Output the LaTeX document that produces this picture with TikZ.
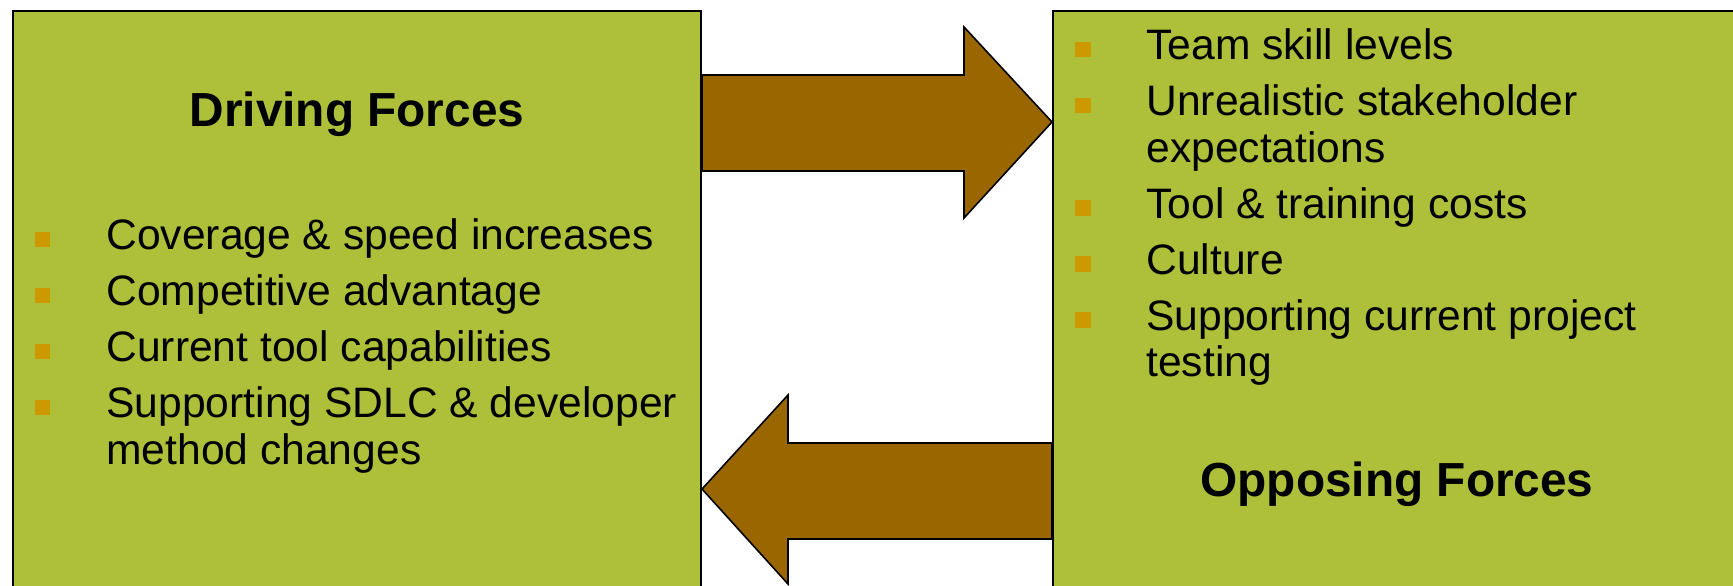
\documentclass[tikz,border=0pt]{standalone}
\usepackage{fontspec}
\setmainfont{Liberation Sans}
\definecolor{boxgreen}{RGB}{174,191,58}
\definecolor{arrowbrown}{RGB}{153,102,0}
\definecolor{bulletgold}{RGB}{204,153,0}
\newcommand\itemtext[1]{\begin{tabular}[t]{@{}l@{}}#1\end{tabular}}
\begin{document}
\begin{tikzpicture}[x=0.5pt,y=-0.5pt,
  forcebox/.style={draw=black, line width=1pt, fill=boxgreen, anchor=north west, inner sep=0pt},
  bigarrow/.style={draw=black, line width=0.8pt, fill=arrowbrown, line join=miter},
  bul/.style={fill=bulletgold, minimum size=7.6pt, inner sep=0pt},
  itm/.style={anchor=base west, inner sep=0pt, font=\fontsize{21.3}{23.4}\selectfont},
  title/.style={anchor=base, inner sep=0pt, font=\fontsize{23.9}{26}\selectfont\bfseries}]
\useasboundingbox (0,0) rectangle (1733,585);
\clip (0,0) rectangle (1733,585);
% boxes
\node[forcebox, minimum width=344pt, minimum height=300pt] (L) at (12,10) {};
\node[forcebox, minimum width=350pt, minimum height=300pt] (R) at (1052,10) {};
% arrows
\coordinate (ra0) at (L.east |- 0,75);
\coordinate (ra1) at (L.east |- 0,171);
\coordinate (rtip) at (R.west |- 0,122);
\draw[bigarrow] (ra0) -- (964,75) -- (964,27) -- (rtip) -- (964,218) -- (964,171) -- (ra1) -- cycle;
\coordinate (la0) at (R.west |- 0,443);
\coordinate (la1) at (R.west |- 0,539);
\coordinate (ltip) at (L.east |- 0,489);
\draw[bigarrow] (la0) -- (788,443) -- (788,395) -- (ltip) -- (788,584) -- (788,539) -- (la1) -- cycle;
% titles
\node[title] (Lt) at (357,126.5) {Driving Forces};
\node[title] (Rt) at (1397,496.5) {Opposing Forces};
% left items
\node[bul] (lb1) at (42.5,239.5) {};
\node[itm] (li1) at (106,249) {Coverage \& speed increases};
\node[bul] (lb2) at (42.5,295.5) {};
\node[itm] (li2) at (106,305) {Competitive advantage};
\node[bul] (lb3) at (42.5,351.5) {};
\node[itm] (li3) at (106,361.5) {Current tool capabilities};
\node[bul] (lb4) at (42.5,407.5) {};
\node[itm] (li4) at (106,417.5) {\itemtext{Supporting SDLC \& developer\\method changes}};
% right items
\node[bul] (rb1) at (1083,49.5) {};
\node[itm] (ri1) at (1146,59.5) {Team skill levels};
\node[bul] (rb2) at (1083,105.5) {};
\node[itm] (ri2) at (1146,115.5) {\itemtext{Unrealistic stakeholder\\expectations}};
\node[bul] (rb3) at (1083,208) {};
\node[itm] (ri3) at (1146,218) {Tool \& training costs};
\node[bul] (rb4) at (1083,264) {};
\node[itm] (ri4) at (1146,274) {Culture};
\node[bul] (rb5) at (1083,320) {};
\node[itm] (ri5) at (1146,330) {\itemtext{Supporting current project\\testing}};
\end{tikzpicture}
\end{document}
